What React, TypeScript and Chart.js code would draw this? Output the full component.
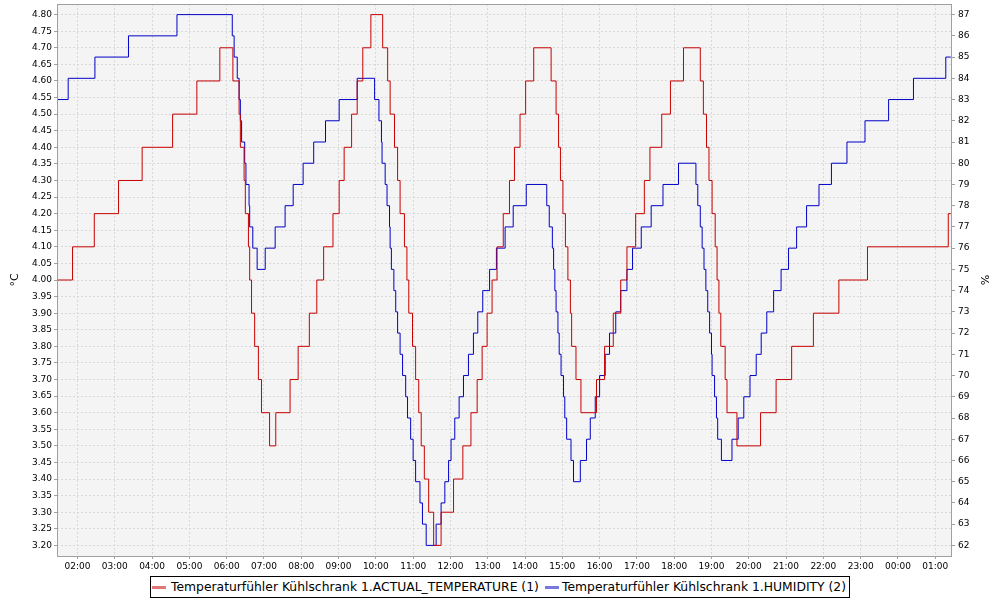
import React, { useEffect, useRef } from 'react';
import { Chart, registerables } from 'chart.js';

Chart.register(...registerables);

// Time axis: minutes since 00:00 of the first day
const hourLabels = ['02:00', '03:00', '04:00', '05:00', '06:00', '07:00', '08:00', '09:00', '10:00', '11:00', '12:00', '13:00',
  '14:00', '15:00', '16:00', '17:00', '18:00', '19:00', '20:00', '21:00', '22:00', '23:00', '00:00', '01:00'];
const firstHourMinute = 120;
const xMin = 87;
const xMax = 1527;

const tempTicks = [3.2, 3.25, 3.3, 3.35, 3.4, 3.45, 3.5, 3.55, 3.6, 3.65, 3.7, 3.75, 3.8, 3.85, 3.9, 3.95, 4.0,
  4.05, 4.1, 4.15, 4.2, 4.25, 4.3, 4.35, 4.4, 4.45, 4.5, 4.55, 4.6, 4.65, 4.7, 4.75, 4.8];
const humTicks = [62, 63, 64, 65, 66, 67, 68, 69, 70, 71, 72, 73, 74, 75, 76, 77, 78, 79, 80, 81, 82, 83, 84, 85, 86, 87];

// Temperature (°C): change times (minutes) and new values
const tempTimes = [87, 112, 147, 186, 224, 273, 312, 349, 370, 380, 382, 388, 390, 395, 397, 400, 405, 411, 416, 429, 439,
  462, 475, 493, 505, 516, 531, 541, 549, 561, 570, 579, 592, 611, 619, 623, 630, 635, 639, 646, 650, 653, 659, 664, 669,
  673, 678, 685, 693, 705, 725, 740, 753, 763, 771, 779, 787, 795, 805, 815, 823, 832, 841, 854, 882, 890, 894, 897, 901,
  905, 909, 913, 915, 922, 930, 955, 968, 982, 994, 1004, 1018, 1032, 1041, 1060, 1074, 1095, 1122, 1127, 1132, 1136,
  1141, 1146, 1149, 1152, 1155, 1162, 1165, 1181, 1219, 1244, 1269, 1304, 1345, 1391, 1521, 1525];
const tempValues = [4.0, 4.1, 4.2, 4.3, 4.4, 4.5, 4.6, 4.7, 4.6, 4.5, 4.4, 4.3, 4.2, 4.1, 4.0, 3.9, 3.8, 3.7, 3.6, 3.5, 3.6,
  3.7, 3.8, 3.9, 4.0, 4.1, 4.2, 4.3, 4.4, 4.5, 4.6, 4.7, 4.8, 4.7, 4.6, 4.5, 4.4, 4.3, 4.2, 4.1, 4.0, 3.9, 3.8, 3.7, 3.6,
  3.5, 3.4, 3.3, 3.2, 3.3, 3.4, 3.5, 3.6, 3.7, 3.8, 3.9, 4.0, 4.1, 4.2, 4.3, 4.4, 4.5, 4.6, 4.7, 4.6, 4.5, 4.4, 4.3, 4.2,
  4.1, 4.0, 3.9, 3.8, 3.7, 3.6, 3.7, 3.8, 3.9, 4.0, 4.1, 4.2, 4.3, 4.4, 4.5, 4.6, 4.7, 4.6, 4.5, 4.4, 4.3,
  4.2, 4.1, 4.0, 3.9, 3.8, 3.7, 3.6, 3.5, 3.6, 3.7, 3.8, 3.9, 4.0, 4.1, 4.2, 4.2];

// Humidity (%): change times (minutes) and new values
const humTimes = [87, 105, 148, 202, 280, 369, 372, 377, 380, 382, 384, 389, 391, 396, 397, 402, 409, 422, 438, 454, 467,
  483, 500, 519, 541, 570, 598, 605, 609, 610, 615, 618, 622, 623, 625, 629, 632, 635, 639, 643, 648, 651, 656, 660, 664,
  671, 675, 681, 697, 705, 711, 717, 721, 727, 734, 741, 749, 757, 764, 772, 783, 794, 808, 821, 842, 875, 879, 884, 886,
  888, 890, 893, 895, 898, 902, 904, 907, 914, 918, 929, 939, 945, 953, 960, 969, 976, 986, 994, 1004, 1013, 1027, 1043,
  1062, 1087, 1115, 1118, 1122, 1125, 1128, 1131, 1134, 1137, 1140, 1141, 1145, 1148, 1150, 1156, 1173, 1183, 1192, 1202,
  1212, 1220, 1229, 1240, 1252, 1264, 1277, 1293, 1313, 1333, 1358, 1387, 1425, 1465, 1517, 1525];
const humValues = [83, 84, 85, 86, 87, 86, 85, 84, 83, 82, 81, 80, 79, 78, 77, 76, 75, 76, 77, 78, 79, 80, 81, 82, 83, 84,
  83, 82, 81, 80, 79, 78, 77, 76, 75, 74, 73, 72, 71, 70, 69, 68, 67, 66, 65, 64, 63, 62, 63, 64, 65, 66, 67, 68, 69, 70,
  71, 72, 73, 74, 75, 76, 77, 78, 79, 78, 77, 76, 75, 74, 73, 72, 71, 70, 69, 68, 67, 66, 65, 66, 67, 68, 69, 70, 71, 72,
  73, 74, 75, 76, 77, 78, 79, 80, 79, 78, 77, 76, 75, 74, 73, 72, 71, 70, 69, 68, 67, 66, 67, 68, 69, 70, 71, 72, 73, 74,
  75, 76, 77, 78, 79, 80, 81, 82, 83, 84, 85, 85];

const tempLabel = 'Temperaturfühler Kühlschrank 1.ACTUAL_TEMPERATURE (1)';
const humLabel = 'Temperaturfühler Kühlschrank 1.HUMIDITY (2)';

const FONT = "'DejaVu Sans', sans-serif";
const RED = '#c80000';
const BLUE = '#0000c8';

const plotFrame = {
  id: 'plotFrame',
  beforeDraw(chart: any) {
    const { ctx, chartArea: a } = chart;
    ctx.save();
    ctx.fillStyle = '#f4f4f4';
    ctx.fillRect(a.left, a.top, a.right - a.left, a.bottom - a.top);
    ctx.restore();
  },
  afterDraw(chart: any) {
    const { ctx, chartArea: a } = chart;
    ctx.save();
    ctx.strokeStyle = '#a0a0a0';
    ctx.lineWidth = 1;
    ctx.strokeRect(a.left + 0.5, a.top + 0.5, a.right - a.left - 1, a.bottom - a.top);
    ctx.restore();
  },
};

const noPad = (scale: any) => {
  scale.paddingTop = 0;
  scale.paddingBottom = 0;
  scale.paddingLeft = 0;
  scale.paddingRight = 0;
};

export default function App() {
  const ref = useRef<HTMLCanvasElement>(null);

  useEffect(() => {
    const canvas = ref.current;
    if (!canvas) return;
    const chart = new Chart(canvas, {
      type: 'line',
      data: {
        datasets: [
          {
            label: tempLabel,
            data: tempTimes.map((t, i) => ({ x: t, y: tempValues[i] })),
            borderColor: RED,
            borderWidth: 1,
            pointRadius: 0,
            stepped: true,
            yAxisID: 'y',
          },
          {
            label: humLabel,
            data: humTimes.map((t, i) => ({ x: t, y: humValues[i] })),
            borderColor: BLUE,
            borderWidth: 1,
            pointRadius: 0,
            stepped: true,
            yAxisID: 'y1',
          },
        ],
      },
      options: {
        animation: false,
        responsive: false,
        events: [],
        layout: { padding: { top: 4, bottom: 24, left: 0, right: 0 } },
        plugins: { legend: { display: false }, tooltip: { enabled: false } },
        scales: {
          x: {
            type: 'linear',
            min: xMin,
            max: xMax,
            afterBuildTicks: (scale: any) => {
              scale.ticks = hourLabels.map((_, i) => ({ value: firstHourMinute + i * 60 }));
            },
            afterFit: (scale: any) => { scale.height = 20; noPad(scale); },
            ticks: {
              autoSkip: false,
              maxRotation: 0,
              padding: 2,
              color: '#000',
              font: { family: FONT, size: 9 },
              callback: (v: any) => hourLabels[Math.round((Number(v) - firstHourMinute) / 60)],
            },
            grid: { color: '#d8d8d8', tickColor: '#a0a0a0', tickLength: 3, tickBorderDash: [] },
            border: { display: false, dash: [2, 2] },
          },
          y: {
            position: 'left',
            min: 3.168,
            max: 4.832,
            afterBuildTicks: (scale: any) => {
              scale.ticks = tempTicks.map((v) => ({ value: v }));
            },
            afterFit: (scale: any) => { scale.width = 57; noPad(scale); },
            ticks: {
              padding: 2,
              color: '#000',
              font: { family: FONT, size: 9 },
              callback: (v: any) => Number(v).toFixed(2),
            },
            grid: { color: '#d8d8d8', tickColor: '#a0a0a0', tickLength: 3, tickBorderDash: [] },
            border: { display: false, dash: [2, 2] },
            title: { display: true, text: '°C', color: '#000', font: { family: FONT, size: 11 }, padding: { top: 9, bottom: 0 } },
          },
          y1: {
            position: 'right',
            min: 61.5,
            max: 87.5,
            afterBuildTicks: (scale: any) => {
              scale.ticks = humTicks.map((v) => ({ value: v }));
            },
            afterFit: (scale: any) => { scale.width = 48; noPad(scale); },
            ticks: {
              padding: 3,
              color: '#000',
              font: { family: FONT, size: 9 },
              callback: (v: any) => String(v),
            },
            grid: { drawOnChartArea: false, color: '#a0a0a0', tickColor: '#a0a0a0', tickLength: 3, tickBorderDash: [] },
            border: { display: false },
            title: { display: true, text: '%', color: '#000', font: { family: FONT, size: 11 }, padding: { top: 10, bottom: 0 } },
          },
        },
      },
      plugins: [plotFrame],
    });
    return () => chart.destroy();
  }, []);

  const legendItem = (left: number, textLeft: number, color: string, text: string) => (
    <>
      <div style={{ position: 'absolute', left, top: 586, width: 14, height: 3, background: color }} />
      <div style={{ position: 'absolute', left: textLeft, top: 579, fontFamily: FONT, fontSize: 12.35, lineHeight: '16px', color: '#000', whiteSpace: 'nowrap' }}>{text}</div>
    </>
  );

  return (
    <div style={{ position: 'absolute', left: 0, top: 0, width: 1000, height: 600, background: '#fff' }}>
      <canvas ref={ref} width={1000} height={600} style={{ display: 'block' }} />
      <div style={{ position: 'absolute', left: 150, top: 576, width: 698, height: 20, border: '1px solid #000', background: '#fff' }} />
      {legendItem(152, 171, '#e07878', tempLabel)}
      {legendItem(545, 562, '#7878e0', humLabel)}
    </div>
  );
}
